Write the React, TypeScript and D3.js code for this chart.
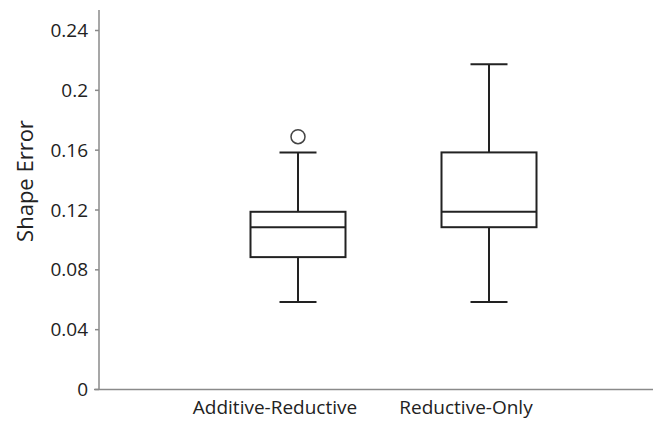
import React from "react";
import * as d3 from "d3";

const categories = ["Additive-Reductive", "Reductive-Only"];
const whiskerLow = [0.0585, 0.0585];
const q1 = [0.0885, 0.1085];
const median = [0.1085, 0.1188];
const q3 = [0.1188, 0.1585];
const whiskerHigh = [0.1585, 0.2175];
const outliers = [[0.169], []];
const yTicks = [0, 0.04, 0.08, 0.12, 0.16, 0.2, 0.24];
const yTickLabels = ["0", "0.04", "0.08", "0.12", "0.16", "0.2", "0.24"];

const W = 653;
const H = 428;
const font = "'Open Sans', sans-serif";

export default function App() {
  const y = d3.scaleLinear().domain([0, 0.24]).range([389.5, 30.5]);
  const x = d3.scalePoint<string>().domain(categories).range([107, 680]).padding(1);
  const boxW = 95;
  const capW = 37;
  const stroke = "#222";
  const axisColor = "#8a8a8a";
  return (
    <svg width={W} height={H} style={{ position: "absolute", left: 0, top: 0, background: "#fff" }}>
      <line x1={99} x2={99} y1={10} y2={389.5} stroke={axisColor} strokeWidth={1.5} />
      <line x1={94} x2={W} y1={389.5} y2={389.5} stroke={axisColor} strokeWidth={1.5} />
      {yTicks.map((t, i) => (
        <g key={i}>
          <line x1={95} x2={99} y1={y(t)} y2={y(t)} stroke={axisColor} strokeWidth={1.5} />
          <text x={88} y={y(t)} dy="0.35em" textAnchor="end" fontFamily={font} fontSize={19} fill="#222">
            {yTickLabels[i]}
          </text>
        </g>
      ))}
      <text
        transform={`translate(25,181) rotate(-90)`}
        textAnchor="middle"
        dy="0.35em"
        fontFamily={font}
        fontSize={22}
        fill="#222"
      >
        Shape Error
      </text>
      {categories.map((c, i) => {
        const cx = x(c) as number;
        return (
          <g key={c}>
            <line x1={cx} x2={cx} y1={y(whiskerHigh[i])} y2={y(q3[i])} stroke={stroke} strokeWidth={2} />
            <line x1={cx} x2={cx} y1={y(q1[i])} y2={y(whiskerLow[i])} stroke={stroke} strokeWidth={2} />
            <line x1={cx - capW / 2} x2={cx + capW / 2} y1={y(whiskerHigh[i])} y2={y(whiskerHigh[i])} stroke={stroke} strokeWidth={2} />
            <line x1={cx - capW / 2} x2={cx + capW / 2} y1={y(whiskerLow[i])} y2={y(whiskerLow[i])} stroke={stroke} strokeWidth={2} />
            <rect
              x={cx - boxW / 2}
              y={y(q3[i])}
              width={boxW}
              height={y(q1[i]) - y(q3[i])}
              fill="none"
              stroke={stroke}
              strokeWidth={2}
            />
            <line x1={cx - boxW / 2} x2={cx + boxW / 2} y1={y(median[i])} y2={y(median[i])} stroke={stroke} strokeWidth={2} />
            {outliers[i].map((o, j) => (
              <circle key={j} cx={cx} cy={y(o)} r={7} fill="none" stroke="#444" strokeWidth={1.5} />
            ))}
            <text x={cx - 23} y={414} textAnchor="middle" fontFamily={font} fontSize={19} fill="#222">
              {c}
            </text>
          </g>
        );
      })}
    </svg>
  );
}
